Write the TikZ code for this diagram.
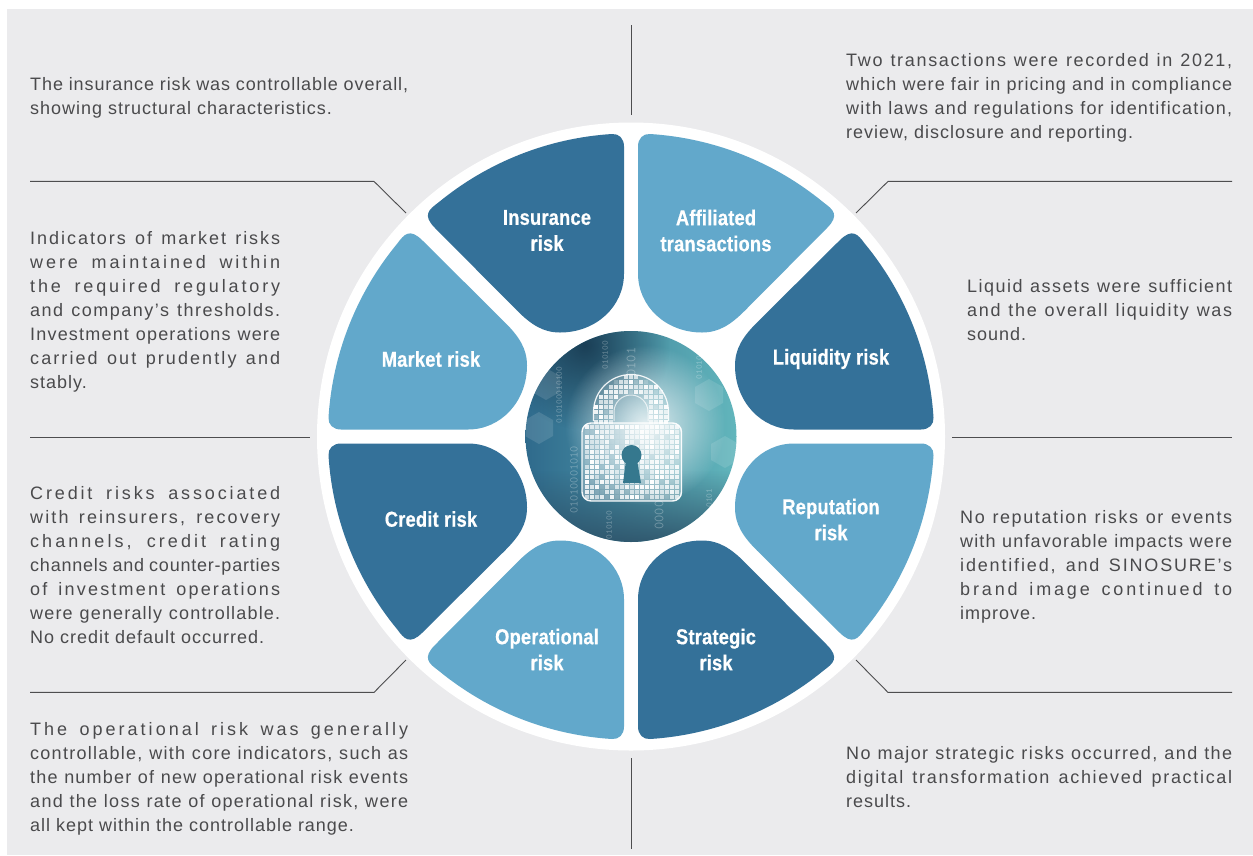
\documentclass[tikz,border=0pt]{standalone}
\usepackage{fontspec}
\usetikzlibrary{fadings}
\tikzfading[name=softout,inner color=transparent!0,outer color=transparent!100]
\setmainfont{Liberation Sans}
\newfontfamily\bodyfont[LetterSpace=5.5]{Liberation Sans}
\newfontfamily\labelfont[FakeStretch=0.85,LetterSpace=1,BoldFont={Liberation Sans Bold},BoldFeatures={FakeBold=0.6}]{Liberation Sans}
\definecolor{pagegray}{HTML}{EBEBED}
\definecolor{petaldark}{HTML}{347199}
\definecolor{petallight}{HTML}{62A8CB}
\definecolor{inkgray}{HTML}{4A4A4C}
\definecolor{rulegray}{HTML}{4D4D4F}
\definecolor{imgleft}{HTML}{2F6A8C}
\definecolor{imgright}{HTML}{62B6BC}
\definecolor{imgnavy}{HTML}{17384F}
\definecolor{imgslate}{HTML}{2C4F66}
\definecolor{imgkey}{HTML}{35788E}
\newcount\chcount
\newbox\jlbox
\makeatletter
% a line set to a given width: the slack goes mostly to letter spacing, the rest to word spaces
\newcommand{\jl}[2]{%
  \setbox\jlbox\hbox{#2}%
  \chcount=0
  \@tfor\jltok:=#2\do{\advance\chcount by 1 }%
  \pgfmathsetmacro{\jlls}{5.5+100*0.8*(#1-\the\wd\jlbox)/\the\chcount/18}%
  \makebox[#1pt][s]{\addfontfeature{LetterSpace=\jlls}#2}}
\makeatother
\newcommand{\petalpath}{(-7,-163) -- (-7,-290) .. controls (-7,-298) and (-12,-303) .. (-19,-302.5)
  arc[start angle=-93.6,end angle=-129.5,radius=303]
  .. controls (-202,-227) and (-209,-221.5) .. (-196,-208.5)
  -- (-114,-126) .. controls (-100,-112) and (-88,-104) .. (-71,-104)
  .. controls (-35,-104) and (-7,-130) .. (-7,-163) -- cycle}
\tikzset{
  x=1pt,y=-1pt,
  bodytext/.style={inner sep=0pt,anchor=north west,align=left,text=inkgray,font=\fontsize{18}{24}\bodyfont},
  petallabel/.style={inner sep=0pt,align=center,text=white,font=\fontsize{21.5}{26}\labelfont\bfseries},
  leader/.style={draw=rulegray,line width=0.9pt},
  digits/.style={inner sep=0pt,rotate=90,text=white,opacity=0.3,font=\fontsize{9}{9}\ttfamily},
}
\begin{document}
\begin{tikzpicture}
\useasboundingbox (0,0) rectangle (1253,855);
\fill[white] (0,0) rectangle (1253,855);
\fill[pagegray] (7,9) rectangle (1253,855);
\node[circle,fill=white,minimum size=628pt,inner sep=0pt] (disc) at (631,436.5) {};

% petals
\begin{scope}[shift={(631,436.5)}]
\fill[petaldark] \petalpath;
\begin{scope}[xscale=-1]\fill[petallight] \petalpath;\end{scope}
\begin{scope}[cm={0,1,1,0,(0,0)}]\fill[petallight] \petalpath;\end{scope}
\begin{scope}[cm={0,-1,1,0,(0,0)}]\fill[petaldark] \petalpath;\end{scope}
\begin{scope}[cm={0,1,-1,0,(0,0)}]\fill[petaldark] \petalpath;\end{scope}
\begin{scope}[cm={0,-1,-1,0,(0,0)}]\fill[petallight] \petalpath;\end{scope}
\begin{scope}[yscale=-1]\fill[petallight] \petalpath;\end{scope}
\begin{scope}[xscale=-1,yscale=-1]\fill[petaldark] \petalpath;\end{scope}
\end{scope}

% centre picture
\begin{scope}
\clip (631,436.5) circle[radius=105.5];
\shade[left color=imgleft,right color=imgright] (525,330) rectangle (737,545);
\fill[imgslate,path fading=north,opacity=0.9] (520,470) rectangle (745,546);
\fill[imgnavy,path fading=softout,opacity=0.9] (585,345) circle[radius=85];
\foreach \cx/\cy in {539/428,546/384,709/395,725/452}{
  \fill[white,opacity=0.12] (\cx-14,\cy-8) -- (\cx,\cy-16) -- (\cx+14,\cy-8) -- (\cx+14,\cy+8) -- (\cx,\cy+16) -- (\cx-14,\cy+8) -- cycle;
}
\node[digits] (d1) at (559,395) {010100010100};
\node[digits] (d2) at (605,355) {010100};
\node[digits,font=\fontsize{14}{14}\ttfamily] (d3) at (631,362) {0101};
\node[digits] (d4) at (699,365) {010100};
\node[digits,font=\fontsize{12}{12}\ttfamily] (d5) at (574,480) {01010001010};
\node[digits,font=\fontsize{14}{14}\ttfamily] (d6) at (659,515) {0000};
\node[digits] (d7) at (709,498) {0101};
\node[digits] (d8) at (609,525) {010100};
\fill[white,path fading=softout,opacity=0.85] (645,425) circle[radius=80];
\pgfmathsetseed{11}
% shackle outline and squares
\draw[white,line width=1.2pt,opacity=0.9] (593.5,421) -- (593.5,412) arc[start angle=180,end angle=360,radius=37.5] -- (668.5,421);
\draw[white,line width=1pt,opacity=0.7] (614,421) -- (614,412) arc[start angle=180,end angle=360,radius=17] -- (648,421);
\foreach \i in {0,...,15}{\foreach \j in {0,...,9}{
  \pgfmathsetmacro{\px}{595.5+\i*5}
  \pgfmathsetmacro{\py}{376.5+\j*5}
  \pgfmathsetmacro{\rr}{\py<412 ? sqrt((\px-631)^2+(\py-412)^2) : abs(\px-631)}
  \pgfmathtruncatemacro{\inring}{(\rr>19 && \rr<36) ? 1 : 0}
  \ifnum\inring=1
    \pgfmathsetmacro{\op}{rnd<0.12 ? 0.2 : 0.6+0.4*rnd}
    \fill[white,opacity=\op] (\px-2,\py-2) rectangle (\px+2,\py+2);
  \fi
}}
% body
\fill[white,opacity=0.3,rounded corners=9pt] (582,423) rectangle (681.5,501);
\draw[white,line width=1.4pt,opacity=0.95,rounded corners=9pt] (582,423) rectangle (681.5,501);
\foreach \i in {0,...,18}{\foreach \j in {0,...,14}{
  \pgfmathsetmacro{\px}{586.5+\i*5}
  \pgfmathsetmacro{\py}{427+\j*5}
  \pgfmathsetmacro{\op}{rnd<0.14 ? 0.1 : 0.55+0.45*rnd}
  \fill[white,opacity=\op] (\px-2,\py-2) rectangle (\px+2,\py+2);
}}
% keyhole
\fill[imgkey] (631.5,455) circle[radius=10];
\fill[imgkey] (626,460) -- (637,460) -- (641,483) -- (623,483) -- cycle;
\end{scope}
\node[circle,minimum size=211pt,inner sep=0pt] (hub) at (631,436.5) {};

% leader lines
\coordinate (t1) at (631,25);   \coordinate (t2) at (631,115);
\coordinate (b1) at (631,758);  \coordinate (b2) at (631,849);
\coordinate (a1) at (30,181.4);   \coordinate (a2) at (374,181.4);  \coordinate (a3) at (406,213);
\coordinate (c1) at (1232,181.4); \coordinate (c2) at (888,181.4);  \coordinate (c3) at (856,213);
\coordinate (e1) at (30,437);   \coordinate (e2) at (310,437);
\coordinate (f1) at (952,437);  \coordinate (f2) at (1232,437);
\coordinate (g1) at (30,692.4);   \coordinate (g2) at (374,692.4);  \coordinate (g3) at (406,660);
\coordinate (h1) at (1232,692.4); \coordinate (h2) at (888,692.4);  \coordinate (h3) at (856,660);
\draw[leader] (t1) -- (t2);
\draw[leader] (b1) -- (b2);
\draw[leader] (a1) -- (a2) -- (a3);
\draw[leader] (c1) -- (c2) -- (c3);
\draw[leader] (e1) -- (e2);
\draw[leader] (f1) -- (f2);
\draw[leader] (g1) -- (g2) -- (g3);
\draw[leader] (h1) -- (h2) -- (h3);

% petal labels
\node[petallabel] (insurance) at (547,230.5) {Insurance\\risk};
\node[petallabel] (affiliated) at (716,230.5) {Affiliated\\transactions};
\node[petallabel] (market) at (431,359) {Market risk};
\node[petallabel] (liquidity) at (831,359) {Liquidity risk};
\node[petallabel] (credit) at (431,519) {Credit risk};
\node[petallabel] (reputation) at (831,519.5) {Reputation\\risk};
\node[petallabel] (operational) at (547,649.5) {Operational\\risk};
\node[petallabel] (strategic) at (716,649.5) {Strategic\\risk};

% body text
\node[bodytext] (txtinsurance) at (30,77) {\jl{378}{The insurance risk was controllable overall,}\\showing structural characteristics.};
\node[bodytext] (txtaffiliated) at (846,53) {\jl{386}{Two transactions were recorded in 2021,}\\\jl{386}{which were fair in pricing and in compliance}\\\jl{386}{with laws and regulations for identification,}\\review, disclosure and reporting.};
\node[bodytext] (txtmarket) at (30,231) {\jl{250}{Indicators of market risks}\\\jl{250}{were maintained within}\\\jl{250}{the required regulatory}\\\jl{250}{and company’s thresholds.}\\\jl{250}{Investment operations were}\\\jl{250}{carried out prudently and}\\stably.};
\node[bodytext] (txtliquidity) at (967,279) {\jl{265}{Liquid assets were sufficient}\\\jl{265}{and the overall liquidity was}\\sound.};
\node[bodytext] (txtcredit) at (30,486) {\jl{250}{Credit risks associated}\\\jl{250}{with reinsurers, recovery}\\\jl{250}{channels, credit rating}\\\jl{250}{channels and counter-parties}\\\jl{250}{of investment operations}\\\jl{250}{were generally controllable.}\\No credit default occurred.};
\node[bodytext] (txtreputation) at (960,510) {\jl{272}{No reputation risks or events}\\\jl{272}{with unfavorable impacts were}\\\jl{272}{identified, and SINOSURE’s}\\\jl{272}{brand image continued to}\\improve.};
\node[bodytext] (txtoperational) at (30,722) {\jl{378}{The operational risk was generally}\\\jl{378}{controllable, with core indicators, such as}\\\jl{378}{the number of new operational risk events}\\\jl{378}{and the loss rate of operational risk, were}\\all kept within the controllable range.};
\node[bodytext] (txtstrategic) at (846,746) {\jl{386}{No major strategic risks occurred, and the}\\\jl{386}{digital transformation achieved practical}\\results.};
\end{tikzpicture}
\end{document}
